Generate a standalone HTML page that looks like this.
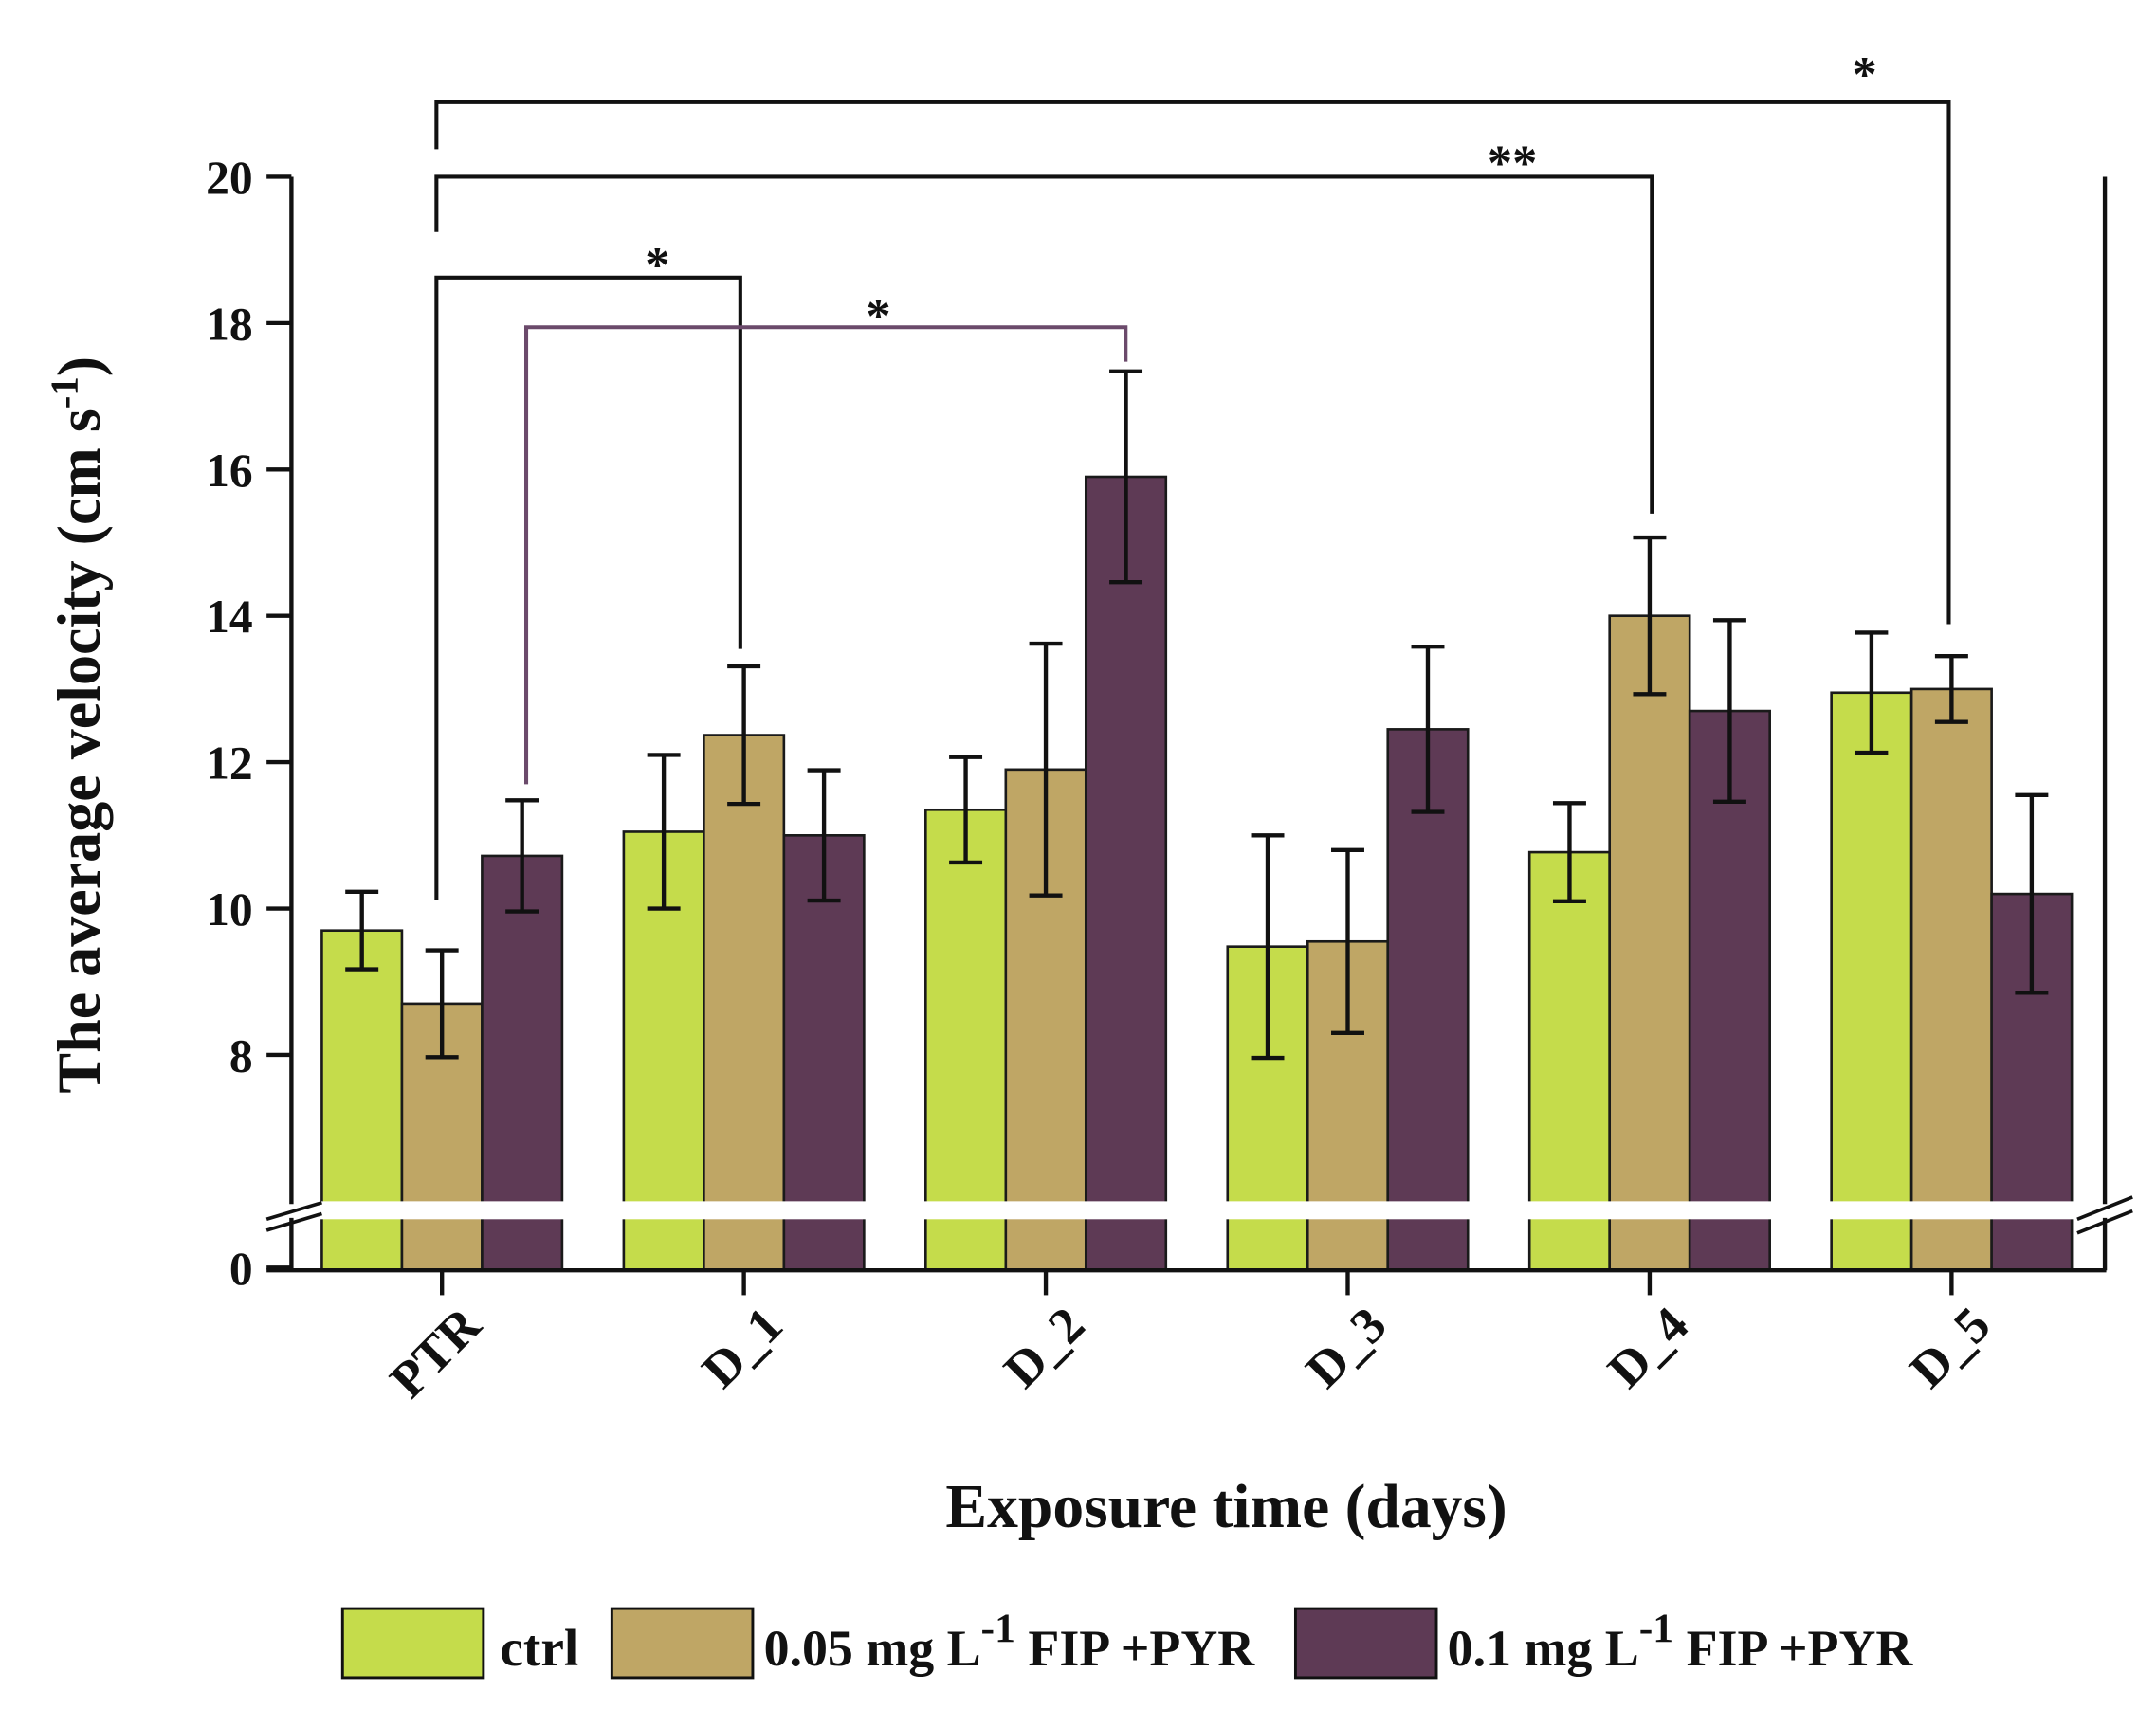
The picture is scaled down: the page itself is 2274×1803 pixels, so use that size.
<!DOCTYPE html>
<html><head><meta charset="utf-8"><style>
html,body{margin:0;padding:0;background:#fff;}
svg{display:block;}
text{font-family:"Liberation Serif",serif;font-weight:bold;fill:#111;}
</style></head><body>
<svg id="chart" width="2274" height="1803" viewBox="0 0 1561 1237.7" xmlns="http://www.w3.org/2000/svg">
<g id="plot"></g>
</svg>
<script>
const categories = ["PTR","D_1","D_2","D_3","D_4","D_5"];
const seriesNames = ["ctrl","0.05 mg L-1 FIP +PYR","0.1 mg L-1 FIP +PYR"];
const ctrlValues = [9.70, 11.05, 11.35, 9.48, 10.77, 12.95];
const ctrlErrors = [0.53, 1.05, 0.72, 1.52, 0.67, 0.82];
const lowValues = [8.70, 12.37, 11.90, 9.55, 14.00, 13.00];
const lowErrors = [0.73, 0.94, 1.72, 1.25, 1.07, 0.45];
const highValues = [10.72, 11.00, 15.90, 12.45, 12.70, 10.20];
const highErrors = [0.76, 0.89, 1.44, 1.13, 1.24, 1.35];
const yTicks = [8, 10, 12, 14, 16, 18, 20];
const colors = ["#c5dc4b", "#bfa665", "#5e3a55"];

const NS = "http://www.w3.org/2000/svg";
const g = document.getElementById("plot");
function el(tag, attrs, parent) {
  const e = document.createElementNS(NS, tag);
  for (const k in attrs) e.setAttribute(k, attrs[k]);
  (parent || g).appendChild(e);
  return e;
}
const X0 = 320, STEP = 218.6, BW = 58;
function xCenter(i) { return X0 + i * STEP; }
function yScale(v) { return 658 - (v - 10) * 53; }
const yZero = 920;

const allVals = [ctrlValues, lowValues, highValues];
const allErr = [ctrlErrors, lowErrors, highErrors];

categories.forEach((c, i) => {
  for (let s = 0; s < 3; s++) {
    const x = xCenter(i) - 87 + s * BW;
    const y = yScale(allVals[s][i]);
    const r = el("rect", {x: x, y: y, width: BW, height: yZero - y, fill: colors[s], stroke: "#1a1a1a", "stroke-width": 1.8});
    
    
  }
  const band = el("rect", {x: xCenter(i) - 89, y: 870, width: 180, height: 13, fill: "#fff"});
  
  
});
categories.forEach((c, i) => {
  for (let s = 0; s < 3; s++) {
    const cx = xCenter(i) - 58 + s * BW;
    const v = allVals[s][i], e = allErr[s][i];
    const eg = el("g", {stroke: "#111", "stroke-width": 3, fill: "none"});
    
    
    el("line", {x1: cx, x2: cx, y1: yScale(v + e), y2: yScale(v - e)}, eg);
    el("line", {x1: cx - 12, x2: cx + 12, y1: yScale(v + e), y2: yScale(v + e)}, eg);
    el("line", {x1: cx - 12, x2: cx + 12, y1: yScale(v - e), y2: yScale(v - e)}, eg);
  }
});
const ax = el("g", {stroke: "#111", "stroke-width": 3, fill: "none"});


el("line", {x1: 211, y1: 128, x2: 211, y2: 872}, ax);
el("line", {x1: 211, y1: 882, x2: 211, y2: 920}, ax);
el("line", {x1: 1524, y1: 128, x2: 1524, y2: 872}, ax);
el("line", {x1: 1524, y1: 882, x2: 1524, y2: 920}, ax);
el("line", {x1: 193, y1: 920, x2: 1525, y2: 920}, ax);
el("line", {x1: 193, y1: 918, x2: 211, y2: 918}, ax);
el("line", {x1: 193, y1: 883, x2: 233, y2: 871, "stroke-width": 2.5}, ax);
el("line", {x1: 193, y1: 891, x2: 233, y2: 879, "stroke-width": 2.5}, ax);
el("line", {x1: 1504, y1: 883, x2: 1544, y2: 867, "stroke-width": 2.5}, ax);
el("line", {x1: 1504, y1: 893, x2: 1544, y2: 877, "stroke-width": 2.5}, ax);
yTicks.forEach(t => {
  el("line", {x1: 193, x2: 211, y1: yScale(t), y2: yScale(t)}, ax);
  const tl = el("text", {x: 183, y: yScale(t) + 12, "text-anchor": "end", "font-size": 34});
  tl.textContent = t;
  
  
});
const z = el("text", {x: 183, y: 930, "text-anchor": "end", "font-size": 34});
z.textContent = "0";


categories.forEach((c, i) => {
  el("line", {x1: xCenter(i), x2: xCenter(i), y1: 920, y2: 938}, ax);
  const t = el("text", {x: 0, y: 0, "text-anchor": "end", "font-size": 37,
    transform: "translate(" + (xCenter(i) + 30) + "," + 962 + ") rotate(-45)"});
  t.textContent = c;
  
  
});
</script>
<svg style="position:absolute;left:0;top:0" width="2274" height="1803" viewBox="0 0 1561 1237.7" xmlns="http://www.w3.org/2000/svg">
<g fill="none" stroke="#111" stroke-width="2.8">
<polyline points="316,108 316,74 1411,74 1411,452"/>
<polyline points="316,168 316,128 1196,128 1196,372"/>
<polyline points="316,652 316,201 536,201 536,470"/>
<polyline points="381,568 381,237 815,237 815,262" stroke="#6b4a6b"/>
</g>
<text x="1350" y="66" text-anchor="middle" font-size="36">*</text>
<text x="1095" y="130" text-anchor="middle" font-size="36">**</text>
<text x="476" y="204" text-anchor="middle" font-size="36">*</text>
<text x="636" y="241" text-anchor="middle" font-size="36">*</text>
<text x="888" y="1106" text-anchor="middle" font-size="45">Exposure time (days)</text>
<text transform="translate(72,525) rotate(-90)" text-anchor="middle" font-size="44">The average velocity (cm s<tspan dy="-16" font-size="28">-1</tspan><tspan dy="16">)</tspan></text>
<g>
<rect x="248" y="1165" width="102" height="50" fill="#c5dc4b" stroke="#111" stroke-width="2"/>
<text x="362" y="1206" font-size="38">ctrl</text>
<rect x="443" y="1165" width="102" height="50" fill="#bfa665" stroke="#111" stroke-width="2"/>
<text x="553" y="1206" font-size="37">0.05 mg L<tspan dy="-17" font-size="30">-1</tspan><tspan dy="17"> FIP +PYR</tspan></text>
<rect x="938" y="1165" width="102" height="50" fill="#5e3a55" stroke="#111" stroke-width="2"/>
<text x="1048" y="1206" font-size="37">0.1 mg L<tspan dy="-17" font-size="30">-1</tspan><tspan dy="17">  FIP +PYR</tspan></text>
</g>
</svg>
</body></html>
